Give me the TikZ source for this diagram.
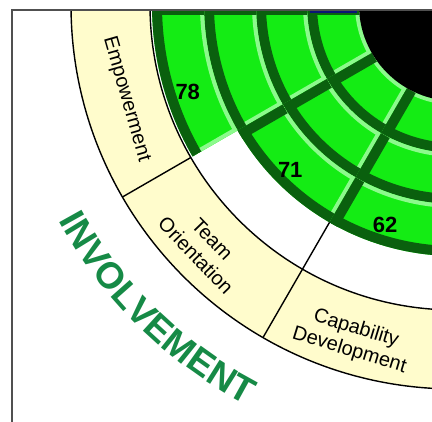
\documentclass[tikz,border=0pt]{standalone}
\usepackage{fontspec}
\setmainfont{Liberation Sans}
\usetikzlibrary{decorations.text}
\definecolor{leafgreen}{RGB}{20,236,20}
\definecolor{darkleaf}{RGB}{10,96,14}
\definecolor{paleleaf}{RGB}{140,250,140}
\definecolor{cream}{RGB}{255,252,204}
\definecolor{invgreen}{RGB}{22,138,70}
\definecolor{framegray}{RGB}{80,80,80}
\definecolor{navyedge}{RGB}{10,20,120}
% one filled quartile cell: start angle, end angle, inner radius, outer radius
\newcommand{\quartile}[4]{%
  \begin{scope}
    \clip (#1:#3) arc[start angle=#1,end angle=#2,radius=#3] -- (#2:#4) arc[start angle=#2,end angle=#1,radius=#4] -- cycle;
    \fill[leafgreen] (0,0) circle[radius=#4];
    \draw[paleleaf,line width=8pt] (#1:#3) arc[start angle=#1,end angle=#2,radius=#3];
    \draw[paleleaf,line width=8pt] (#2:#3) -- (#2:#4);
    \draw[darkleaf,line width=20pt] (#1:#4) arc[start angle=#1,end angle=#2,radius=#4];
    \draw[darkleaf,line width=20pt] (#1:#3) -- (#1:#4);
  \end{scope}}
\begin{document}
\begin{tikzpicture}[x=1pt,y=1pt]
      \tikzstyle{ringlabel}=[font=\fontsize{20}{23}\selectfont,align=center,inner sep=0pt]
      \tikzstyle{score}=[font=\bfseries\fontsize{22}{22}\selectfont,inner sep=0pt]
      \tikzstyle{rim}=[draw=black,line width=1.4pt]
      \useasboundingbox (0,0) rectangle (432,-422);
      \begin{scope}
      \clip (12,-422) rectangle (432,-10);
      \begin{scope}[shift={(455,-5)}]
      \fill[cream] (180:384) arc[start angle=180,end angle=270,radius=384] -- (270:305) arc[start angle=270,end angle=180,radius=305] -- cycle;
      % Empowerment
      \quartile{180}{210}{96}{148}
      \quartile{180}{210}{148}{199}
      \quartile{180}{210}{199}{251}
      \quartile{180}{210}{251}{303}
      % Team Orientation
      \quartile{210}{240}{96}{148}
      \quartile{210}{240}{148}{199}
      \quartile{210}{240}{199}{251}
      % Capability Development
      \quartile{240}{270}{96}{148}
      \quartile{240}{270}{148}{199}
      \quartile{240}{270}{199}{251}
      \fill[black] (0,0) circle[radius=96];
      \path[rim] (0,0) circle[radius=305];
      \path[rim] (0,0) circle[radius=384];
      \path[rim] (210:305) -- (210:384);
      \path[rim] (240:251) -- (240:384);
      \node[ringlabel,rotate=286] (emp) at (196:342) {Empowerment};
      \node[ringlabel,rotate=314] (team) at (224:349) {Team\\Orientation};
      \node[ringlabel,rotate=343] (cap) at (253:350) {Capability\\Development};
      \node[score] (empscore) at (198:281) {78};
      \node[score] (teamscore) at (225:233) {71};
      \node[score] (capscore) at (252.4:231) {62};
      \path[decorate,decoration={text along path,text align=center,
        text={|\color{invgreen}\bfseries\fontsize{37}{37}\selectfont|INVOLVEMENT}}]
        (195:451) arc[start angle=195,end angle=256,radius=451];
      \end{scope}
      \end{scope}
      \fill[navyedge] (310,-10) rectangle (357,-13);
      \draw[framegray,line width=1.5pt] (432,-10) -- (12,-10) -- (12,-422);
    \end{tikzpicture}
\end{document}
